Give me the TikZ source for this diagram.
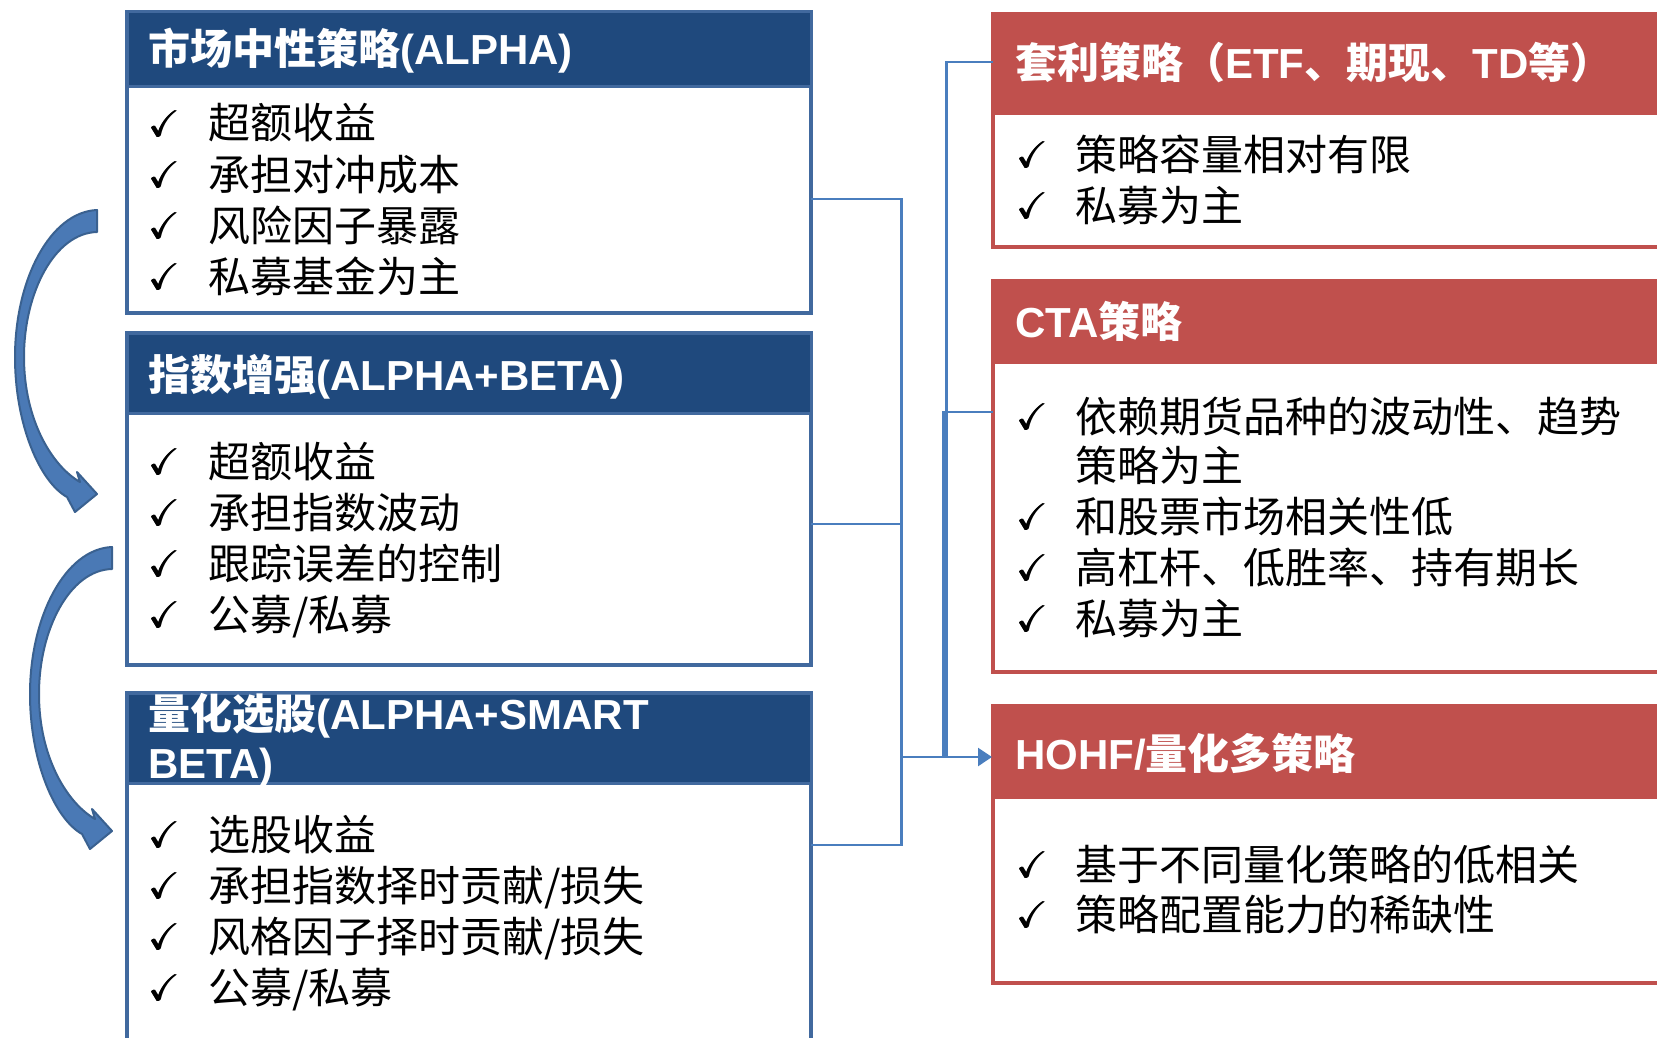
\documentclass[tikz,border=0pt]{standalone}
\usepackage{amssymb}
\usepackage{fontspec}
\usetikzlibrary{arrows.meta}
\newfontfamily\cjk{Noto Sans CJK SC}
\newfontfamily\lat{Liberation Sans}
\newcommand\zh[1]{{\cjk #1}}
\newcommand\en[1]{{\lat #1}}
\newcommand\tk{\rlap{$\checkmark$}\kern0.6pt\rlap{$\checkmark$}\kern0.6pt$\checkmark$}
\definecolor{hdrblue}{HTML}{1F497D}
\definecolor{brdblue}{HTML}{41699E}
\definecolor{hdrred}{HTML}{C0504D}
\definecolor{lineblue}{HTML}{4A7EBE}
\definecolor{arrfill}{HTML}{4A79B5}
\definecolor{arredge}{HTML}{3A6190}
\begin{document}
\begin{tikzpicture}[x=1pt,y=-1pt,
  lbox/.style={draw=brdblue, line width=4pt, fill=white, anchor=north west, inner sep=0pt, outer sep=0pt, minimum width=684pt},
  lhead/.style={fill=hdrblue, draw=brdblue, line width=3pt, anchor=north west, inner sep=0pt, outer sep=0pt, minimum width=684pt},
  rbox/.style={draw=hdrred, line width=4pt, fill=white, anchor=north west, inner sep=0pt, outer sep=0pt, minimum width=720pt},
  rhead/.style={fill=hdrred, draw=hdrred, line width=3pt, anchor=north west, inner sep=0pt, outer sep=0pt, minimum width=720pt},
  title/.style={anchor=west, text=white, font=\fontsize{42}{49}\selectfont\bfseries, inner sep=0pt, text height=36pt, text depth=6pt},
  item/.style={anchor=west, font=\fontsize{42}{51}\selectfont\cjk, inner sep=0pt, text height=36pt, text depth=6pt},
  tick/.style={anchor=west, font=\fontsize{37}{37}\selectfont, inner sep=0pt},
  conn/.style={draw=lineblue, line width=2.5pt},
  bendarrow/.style={fill=arrfill, draw=arredge, line width=2pt, line join=round}
]
\useasboundingbox (0,0) rectangle (1657,1038);
\clip (0,0) rectangle (1657,1038);
\fill[white] (0,0) rectangle (1657,1038);

% curved arrows
\path[bendarrow] (97,210) .. controls (50,212) and (15,280) .. (15,357)
  .. controls (15,425) and (40,482) .. (67,497) -- (75,512) -- (97,494) -- (77,472) -- (80,482)
  .. controls (52,466) and (24,420) .. (24,357) .. controls (24,292) and (55,233) .. (97,232) -- cycle;
\begin{scope}[shift={(15,337)}]
\path[bendarrow] (97,210) .. controls (50,212) and (15,280) .. (15,357)
  .. controls (15,425) and (40,482) .. (67,497) -- (75,512) -- (97,494) -- (77,472) -- (80,482)
  .. controls (52,466) and (24,420) .. (24,357) .. controls (24,292) and (55,233) .. (97,232) -- cycle;
\end{scope}

% left boxes
\node[lbox, minimum height=301pt] (b1) at (127,12) {};
\node[lhead, minimum height=75pt] (h1) at (127,12) {};
\node[lbox, minimum height=332pt] (b2) at (127,333) {};
\node[lhead, minimum height=80pt] (h2) at (127,333) {};
\node[lbox, minimum height=400pt] (b3) at (127,693) {};
\node[lhead, minimum height=90pt] (h3) at (127,693) {};

% right boxes
\node[rbox, minimum height=233pt] (ba) at (993,14) {};
\node[rhead, minimum height=100pt] (ha) at (993,14) {};
\node[rbox, minimum height=391pt] (bb) at (993,281) {};
\node[rhead, minimum height=81pt] (hb) at (993,281) {};
\node[rbox, minimum height=277pt] (bc) at (993,706) {};
\node[rhead, minimum height=91pt] (hc) at (993,706) {};

% titles
\node[title] (t1) at (148,50) {\zh{市场中性策略}\en{(ALPHA)}};
\node[title] (t2) at (148,375) {\zh{指数增强}\en{(ALPHA+BETA)}};
\node[title] (t3a) at (148,714) {\zh{量化选股}\en{(ALPHA+SMART}};
\node[title] (t3b) at (148,763) {\en{BETA)}};
\node[title] (ta) at (1015,64) {\zh{套利策略（}\en{ETF}\zh{、期现、}\en{TD}\zh{等）}};
\node[title] (tb) at (1015,322) {\en{CTA}\zh{策略}};
\node[title] (tc) at (1015,754) {\en{HOHF/}\zh{量化多策略}};

% box 1 items
\node[tick] (k11) at (148,124) {\tk}; \node[item] (i11) at (208,124) {超额收益};
\node[tick] (k12) at (148,175) {\tk}; \node[item] (i12) at (208,175) {承担对冲成本};
\node[tick] (k13) at (148,226) {\tk}; \node[item] (i13) at (208,226) {风险因子暴露};
\node[tick] (k14) at (148,277) {\tk}; \node[item] (i14) at (208,277) {私募基金为主};
% box 2 items
\node[tick] (k21) at (148,462) {\tk}; \node[item] (i21) at (208,462) {超额收益};
\node[tick] (k22) at (148,513) {\tk}; \node[item] (i22) at (208,513) {承担指数波动};
\node[tick] (k23) at (148,564) {\tk}; \node[item] (i23) at (208,564) {跟踪误差的控制};
\node[tick] (k24) at (148,615) {\tk}; \node[item] (i24) at (208,615) {公募/私募};
% box 3 items
\node[tick] (k31) at (148,835) {\tk}; \node[item] (i31) at (208,835) {选股收益};
\node[tick] (k32) at (148,886) {\tk}; \node[item] (i32) at (208,886) {承担指数择时贡献/损失};
\node[tick] (k33) at (148,937) {\tk}; \node[item] (i33) at (208,937) {风格因子择时贡献/损失};
\node[tick] (k34) at (148,988) {\tk}; \node[item] (i34) at (208,988) {公募/私募};
% box A items
\node[tick] (ka1) at (1016,155) {\tk}; \node[item] (ia1) at (1075,155) {策略容量相对有限};
\node[tick] (ka2) at (1016,206) {\tk}; \node[item] (ia2) at (1075,206) {私募为主};
% box B items
\node[tick] (kb1) at (1016,417) {\tk}; \node[item] (ib1) at (1075,417) {依赖期货品种的波动性、趋势};
\node[item] (ib1b) at (1075,466) {策略为主};
\node[tick] (kb2) at (1016,517) {\tk}; \node[item] (ib2) at (1075,517) {和股票市场相关性低};
\node[tick] (kb3) at (1016,568) {\tk}; \node[item] (ib3) at (1075,568) {高杠杆、低胜率、持有期长};
\node[tick] (kb4) at (1016,619) {\tk}; \node[item] (ib4) at (1075,619) {私募为主};
% box C items
\node[tick] (kc1) at (1016,865) {\tk}; \node[item] (ic1) at (1075,865) {基于不同量化策略的低相关};
\node[tick] (kc2) at (1016,915) {\tk}; \node[item] (ic2) at (1075,915) {策略配置能力的稀缺性};

% connectors
\coordinate (s1) at (811,199);
\coordinate (s2) at (811,524);
\coordinate (s3) at (811,845);
\coordinate (sa) at (993,62);
\coordinate (sb) at (993,412);
\coordinate (jx) at (901.5,757);
\coordinate (ja) at (946.5,757);
\coordinate (jb) at (943.5,757);
\coordinate (tin) at (992,757);
\draw[conn] (s1) -| (jx);
\draw[conn] (s2) -| (jx);
\draw[conn] (s3) -| (jx);
\draw[conn] (sa) -| (ja);
\draw[conn] (sb) -| (jb);
\draw[conn, -{Triangle[length=14pt,width=18pt]}] (jx) -- (tin);
\end{tikzpicture}
\end{document}
